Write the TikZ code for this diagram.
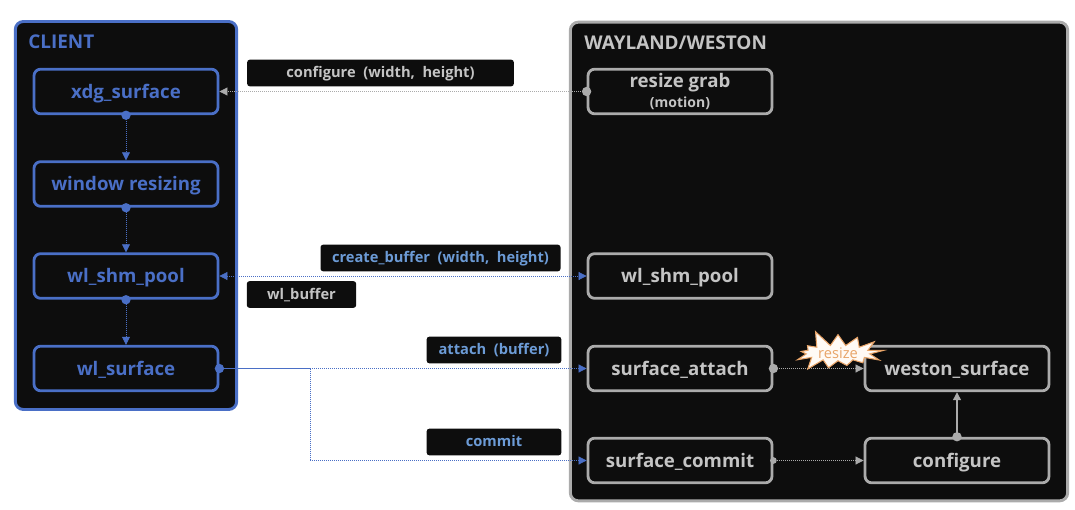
\documentclass[tikz,border=0pt]{standalone}
\usepackage{fontspec}
\setmainfont{Open Sans}
\usetikzlibrary{arrows.meta,shapes.symbols}
\definecolor{panelblack}{HTML}{0D0D0D}
\definecolor{clientblue}{HTML}{4A6FC6}
\definecolor{serverblue}{HTML}{6C9BD6}
\definecolor{servergray}{HTML}{ABABAB}
\definecolor{labelgray}{HTML}{C4C4C4}
\definecolor{burstorange}{HTML}{E8A468}
\tikzset{
  panel/.style={draw=#1, fill=panelblack, line width=2.2pt, rounded corners=6pt},
  clientbox/.style={draw=clientblue, text=clientblue, line width=2.1pt, rounded corners=5pt,
    minimum width=138pt, minimum height=33.5pt, inner sep=0pt, text height=12pt, text depth=2pt,
    font=\fontsize{14}{16}\selectfont\bfseries},
  serverbox/.style={clientbox, draw=servergray, text=labelgray},
  tag/.style={fill=panelblack, rounded corners=2pt, minimum height=20pt, inner sep=0pt,
    text height=8.5pt, text depth=1.5pt, font=\fontsize{11}{13}\selectfont\bfseries},
  title/.style={anchor=west, inner sep=0pt, font=\fontsize{14.2}{16}\selectfont\bfseries},
  blueline/.style={draw=clientblue, densely dotted, line width=0.5pt, -{Triangle[length=6pt,width=6pt,fill=clientblue]}},
  grayline/.style={draw=servergray, densely dotted, line width=0.5pt, -{Triangle[length=6pt,width=6pt,fill=servergray]}},
  knob/.style={circle, fill=#1, inner sep=0pt, minimum size=7pt},
}
\begin{document}
\begin{tikzpicture}[x=0.75pt, y=-0.75pt]
  \useasboundingbox (0,0) rectangle (1075,510);
  % the two panels
  \node[panel=clientblue, minimum width=166pt, minimum height=291pt] (client) at (126,215.5) {};
  \node[panel=servergray, minimum width=373pt, minimum height=359pt] (server) at (819,261.5) {};
  \node[title, text=clientblue] (clienttitle) at (28,42) {CLIENT};
  \node[title, text=labelgray] (servertitle) at (584,43) {WAYLAND/WESTON};
  % boxes
  \node[clientbox] (xdg) at (126,91.5) {xdg\_surface};
  \node[clientbox] (window) at (126,184) {window resizing};
  \node[clientbox] (clientpool) at (126,276) {wl\_shm\_pool};
  \node[clientbox] (wlsurface) at (126,368.5) {wl\_surface};
  \node[serverbox, align=center, text height=, text depth=] (grab) at (680,91.5)
    {resize grab\\[-1pt]{\fontsize{10.5}{12}\selectfont (motion)}};
  \node[serverbox] (serverpool) at (680,276) {wl\_shm\_pool};
  \node[serverbox] (attach) at (680,368.5) {surface\_attach};
  \node[serverbox] (commit) at (680,460.5) {surface\_commit};
  \node[serverbox] (weston) at (957,368.5) {weston\_surface};
  \node[serverbox] (config) at (957,460.5) {configure};
  % tags
  \node[tag, text=labelgray, minimum width=200pt] (configtag) at (380.5,73) {configure\ \ (width,\ \ height)};
  \node[tag, text=serverblue, minimum width=180pt] (buffertag) at (440.5,258) {create\_buffer\ \ (width,\ \ height)};
  \node[tag, text=labelgray, minimum width=82pt] (wlbuffertag) at (301.5,294.5) {wl\_buffer};
  \node[tag, text=serverblue, minimum width=101pt] (attachtag) at (494,350) {attach\ \ (buffer)};
  \node[tag, text=serverblue, minimum width=101pt] (committag) at (494,442) {commit};
  % client side
  \draw[blueline] (xdg) to (window);
  \draw[blueline] (window) to (clientpool);
  \draw[blueline] (clientpool) to (wlsurface);
  \node[knob=clientblue] (k0) at (xdg.south) {};
  \node[knob=clientblue] (k1) at (window.south) {};
  \node[knob=clientblue] (k2) at (clientpool.south) {};
  % across the panels
  \draw[grayline] (grab) to (xdg);
  \draw[blueline, {Triangle[length=6pt,width=6pt,fill=clientblue]}-{Triangle[length=6pt,width=6pt,fill=clientblue]}]
    (clientpool) to (serverpool);
  \coordinate (fork) at (310,368.5);
  \draw[blueline, solid, -] (wlsurface) to (fork);
  \draw[blueline] (fork) to (attach);
  \draw[blueline] (fork) |- (commit);
  \node[knob=clientblue] (k3) at (wlsurface.east) {};
  \node[knob=servergray] (k4) at (grab.west) {};
  % server side
  \draw[grayline] (attach) to (weston);
  \draw[grayline] (commit) to (config);
  \draw[grayline, solid, line width=1pt] (config) to (weston);
  \node[knob=servergray] (k5) at (attach.east) {};
  \node[knob=servergray, minimum size=5pt] (k6) at (commit.east) {};
  \node[knob=servergray] (k7) at (config.north) {};
  % burst on top of the attach line
  \node[starburst, starburst points=13, starburst point height=13pt, random starburst=5,
    draw=burstorange, line width=0.8pt, fill=white!96!orange, inner sep=0pt,
    minimum width=74pt, minimum height=34pt, text=burstorange,
    font=\fontsize{11}{13}\selectfont] (burst) at (838,353) {resize};
\end{tikzpicture}
\end{document}
